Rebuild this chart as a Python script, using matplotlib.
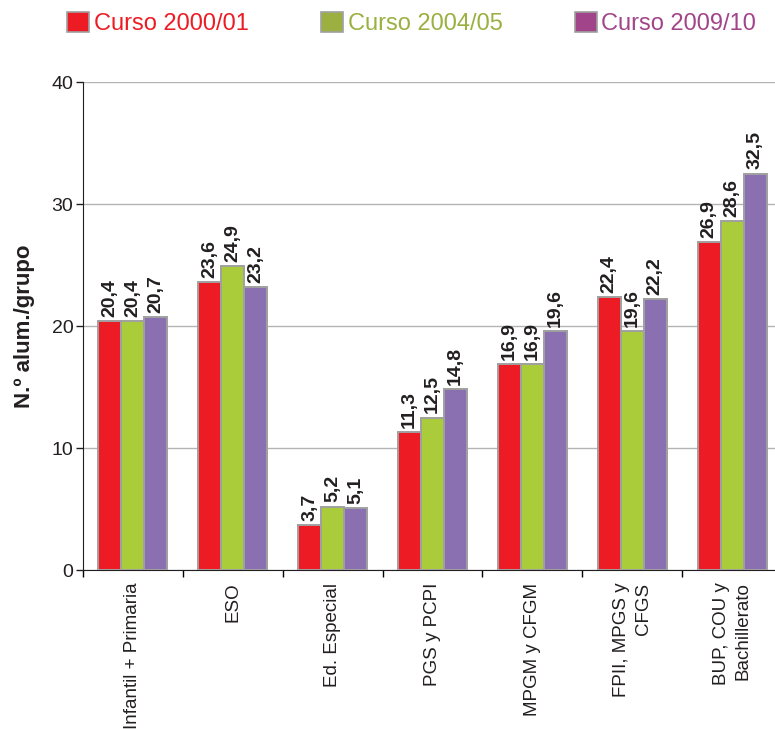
import numpy as np
import matplotlib
matplotlib.use("Agg")
import matplotlib.pyplot as plt
from matplotlib.patches import Patch

plt.rcParams['font.family'] = ['Liberation Sans', 'DejaVu Sans']

# Data
categories = ["Infantil + Primaria", "ESO", "Ed. Especial", "PGS y PCPI",
              "MPGM y CFGM", "FPII, MPGS y\nCFGS", "BUP, COU y\nBachillerato"]
series_names = ["Curso 2000/01", "Curso 2004/05", "Curso 2009/10"]
curso_2000 = [20.4, 23.6, 3.7, 11.3, 16.9, 22.4, 26.9]
curso_2004 = [20.4, 24.9, 5.2, 12.5, 16.9, 19.6, 28.6]
curso_2009 = [20.7, 23.2, 5.1, 14.8, 19.6, 22.2, 32.5]
y_ticks = [0, 10, 20, 30, 40]

bar_colors = ["#ED1C24", "#AACB3A", "#8A70B0"]
legend_colors = ["#ED1C24", "#9BB040", "#A2448A"]

fig = plt.figure(figsize=(7.75, 7.29), dpi=100)
ax = fig.add_axes([0.1071, 0.2181, 0.902, 0.6694])

x = np.arange(len(categories))
width = 0.23
for k, vals in enumerate([curso_2000, curso_2004, curso_2009]):
    pos = x + (k - 1) * width
    ax.bar(pos, vals, width, color=bar_colors[k], edgecolor="#A0A0A0",
           linewidth=1.4, zorder=3)
    for xp, v in zip(pos, vals):
        ax.annotate(f"{v:.1f}".replace(".", ","), (xp, v), xytext=(0, 3),
                    textcoords="offset points", rotation=90, ha="center",
                    va="bottom", fontsize=14, fontweight="bold", color="#231F20")

ax.set_xlim(-0.5, len(categories) - 0.5)
ax.set_ylim(0, 40)
ax.set_yticks(y_ticks)
ax.tick_params(axis="y", labelsize=14, length=5, width=1, pad=2, colors="#231F20")
ax.yaxis.grid(True, color="#B4B4B4", linewidth=1, zorder=0)
ax.set_axisbelow(True)

ax.set_xticks(x)
ax.set_xticklabels(categories, rotation=90, fontsize=13.5, ha="center",
                   va="top", multialignment="right", linespacing=1.4,
                   color="#231F20")
ax.tick_params(axis="x", which="major", length=0, pad=9)
ax.set_xticks(np.arange(len(categories) + 1) - 0.5, minor=True)
ax.tick_params(axis="x", which="minor", length=5, width=1)

for s in ["top", "right"]:
    ax.spines[s].set_visible(False)
ax.spines["left"].set_color("#231F20")
ax.spines["bottom"].set_color("#231F20")

ax.set_ylabel("N.º alum./grupo", fontsize=16, fontweight="bold",
              color="#231F20", labelpad=12)

handles = [Patch(facecolor=c, edgecolor="#A0A0A0", linewidth=1.2) for c in legend_colors]
fig.legend(handles, series_names, loc="center left",
           bbox_to_anchor=(0.087, 0.968), ncol=3, frameon=False, fontsize=17,
           labelcolor=legend_colors, handlelength=0.93, handleheight=0.93,
           handletextpad=0.2, columnspacing=3.05, borderpad=0, borderaxespad=0)

fig.savefig("out.png", dpi=100)
